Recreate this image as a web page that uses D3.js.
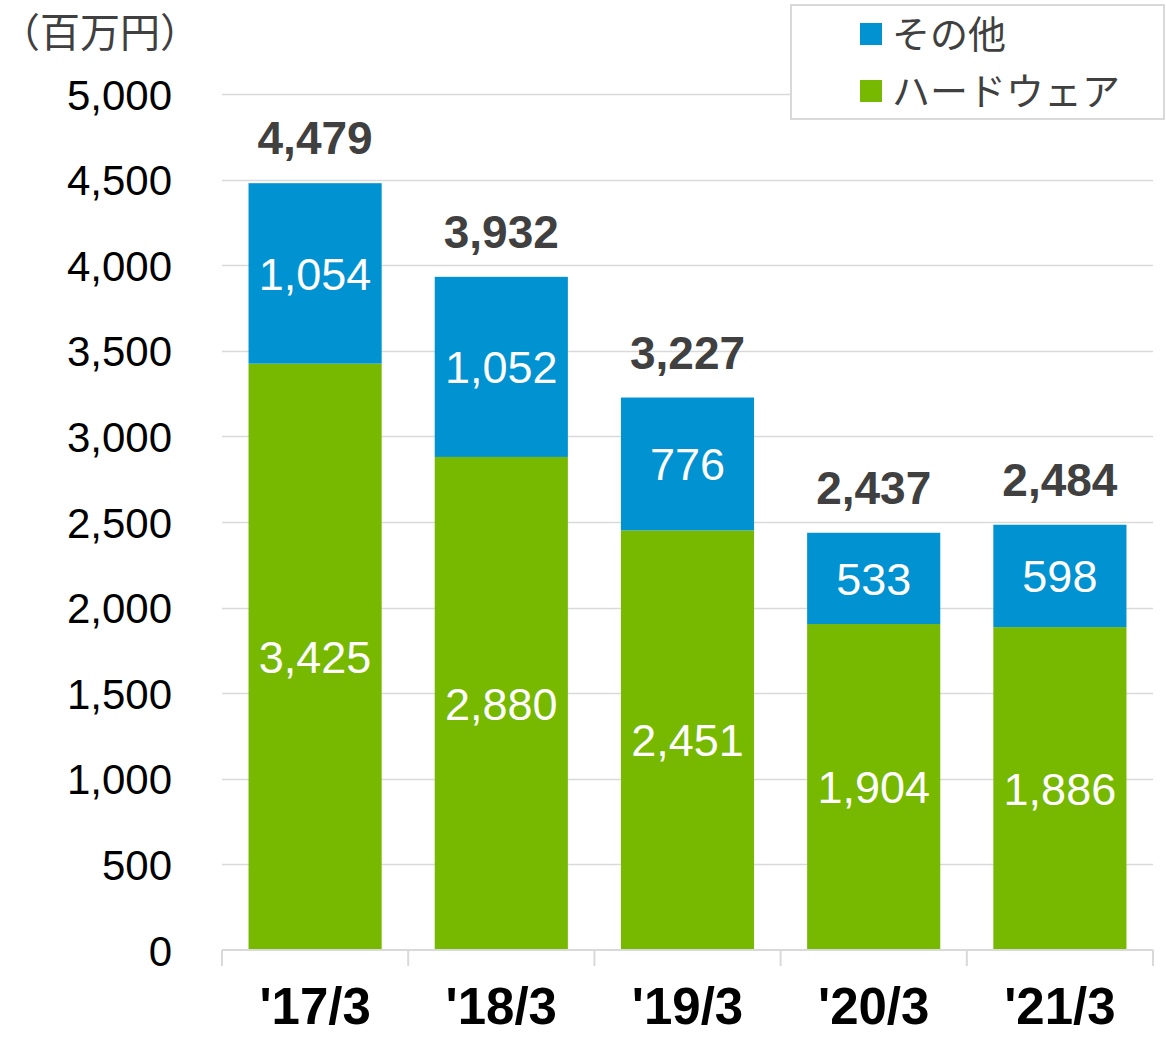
<!DOCTYPE html>
<html>
<head>
<meta charset="utf-8">
<script src="https://cdn.jsdelivr.net/npm/d3@7"></script>
<style>
  body { margin: 0; background: #fff; }
  svg { display: block; font-family: "Liberation Sans", Arial, sans-serif; }
</style>
</head>
<body>
<div class="chart"></div>
<script>
/* CONSTANTS AND GLOBALS */
const width = 1166,
  height = 1037,
  margin = { top: 94, bottom: 87, left: 222, right: 13 };

// chart data
const periods = ["'17/3", "'18/3", "'19/3", "'20/3", "'21/3"];
const hardware = [3425, 2880, 2451, 1904, 1886];
const others = [1054, 1052, 776, 533, 598];
const totals = [4479, 3932, 3227, 2437, 2484];
const yTicks = [0, 500, 1000, 1500, 2000, 2500, 3000, 3500, 4000, 4500, 5000];
const seriesNames = ["その他", "ハードウェア"];

const colors = { hardware: "#76b900", others: "#0092d1" };
const jpFont = '"Noto Sans CJK JP", "Noto Sans", sans-serif';

const rows = periods.map((p, i) => ({
  period: p,
  hardware: hardware[i],
  others: others[i],
  total: totals[i]
}));

const stack = d3.stack().keys(["hardware", "others"]);
const series = stack(rows);

/* SCALES */
const xScale = d3.scaleBand()
  .domain(periods)
  .range([margin.left, width - margin.right])
  .paddingInner(0.285)
  .paddingOuter(0.1425);

const yScale = d3.scaleLinear()
  .domain([0, 5000])
  .range([height - margin.bottom, margin.top]);

const svg = d3.select(".chart")
  .append("svg")
  .attr("width", width)
  .attr("height", height);

// gridlines
svg.append("g")
  .selectAll("line")
  .data(yTicks.filter(d => d > 0))
  .join("line")
  .attr("x1", margin.left)
  .attr("x2", width - margin.right)
  .attr("y1", d => Math.round(yScale(d)) + 0.5)
  .attr("y2", d => Math.round(yScale(d)) + 0.5)
  .attr("stroke", "#d9d9d9")
  .attr("stroke-width", 1.5);

// y axis labels
const yAxis = d3.axisLeft(yScale)
  .tickValues(yTicks)
  .tickFormat(d3.format(","))
  .tickSize(0)
  .tickPadding(0);

svg.append("g")
  .attr("transform", `translate(${172}, 0)`)
  .call(yAxis)
  .call(g => g.select(".domain").remove())
  .selectAll("text")
  .attr("font-family", '"Liberation Sans", Arial, sans-serif')
  .attr("font-size", 42)
  .attr("fill", "#000")
  .attr("dy", "0.36em");

// bars
svg.append("g")
  .selectAll("g")
  .data(series)
  .join("g")
  .attr("fill", d => colors[d.key])
  .selectAll("rect")
  .data(d => d)
  .join("rect")
  .attr("x", d => xScale(d.data.period))
  .attr("width", xScale.bandwidth())
  .attr("y", d => yScale(d[1]))
  .attr("height", d => yScale(d[0]) - yScale(d[1]));

// inner labels
svg.append("g")
  .selectAll("g")
  .data(series)
  .join("g")
  .selectAll("text")
  .data(d => d.map(v => ({ v, key: d.key })))
  .join("text")
  .attr("x", d => xScale(d.v.data.period) + xScale.bandwidth() / 2)
  .attr("y", d => yScale((d.v[0] + d.v[1]) / 2))
  .attr("dy", "0.36em")
  .attr("text-anchor", "middle")
  .attr("fill", "#fff")
  .attr("font-size", 45)
  .text(d => d3.format(",")(d.v.data[d.key]));

// totals
svg.append("g")
  .selectAll("text")
  .data(rows)
  .join("text")
  .attr("x", d => xScale(d.period) + xScale.bandwidth() / 2)
  .attr("y", d => yScale(d.total) - 29)
  .attr("text-anchor", "middle")
  .attr("fill", "#404040")
  .attr("font-weight", "bold")
  .attr("font-size", 46)
  .text(d => d3.format(",")(d.total));

// x axis
const xAxisG = svg.append("g")
  .attr("transform", `translate(0, ${height - margin.bottom})`);

xAxisG.append("line")
  .attr("x1", margin.left)
  .attr("x2", width - margin.right)
  .attr("stroke", "#d9d9d9")
  .attr("stroke-width", 2);

const step = xScale.step();
const boundaries = d3.range(periods.length + 1).map(i => margin.left + i * step);
xAxisG.selectAll("line.tick")
  .data(boundaries)
  .join("line")
  .attr("class", "tick")
  .attr("x1", d => d)
  .attr("x2", d => d)
  .attr("y1", 0)
  .attr("y2", 16)
  .attr("stroke", "#d9d9d9")
  .attr("stroke-width", 2);

xAxisG.selectAll("text")
  .data(periods)
  .join("text")
  .attr("x", d => xScale(d) + xScale.bandwidth() / 2)
  .attr("y", 74)
  .attr("text-anchor", "middle")
  .attr("font-weight", "bold")
  .attr("font-size", 51)
  .attr("fill", "#000")
  .text(d => d);

// unit label
svg.append("text")
  .attr("x", 0)
  .attr("y", 47)
  .attr("font-family", jpFont)
  .attr("font-size", 40)
  .attr("fill", "#404040")
  .text("（百万円）");

// legend
const legend = svg.append("g");
legend.append("rect")
  .attr("x", 791)
  .attr("y", 5)
  .attr("width", 373)
  .attr("height", 114)
  .attr("fill", "#fff")
  .attr("stroke", "#d9d9d9")
  .attr("stroke-width", 2);

const legendColors = [colors.others, colors.hardware];
const legendItems = legend.selectAll("g.item")
  .data(seriesNames)
  .join("g")
  .attr("class", "item")
  .attr("transform", (d, i) => `translate(860, ${23 + i * 57})`);

legendItems.append("rect")
  .attr("width", 22)
  .attr("height", 22)
  .attr("fill", (d, i) => legendColors[i]);

legendItems.append("text")
  .attr("x", 32)
  .attr("y", 11)
  .attr("dy", "0.36em")
  .attr("font-family", jpFont)
  .attr("font-size", 38)
  .attr("fill", "#404040")
  .text(d => d);
</script>
</body>
</html>
